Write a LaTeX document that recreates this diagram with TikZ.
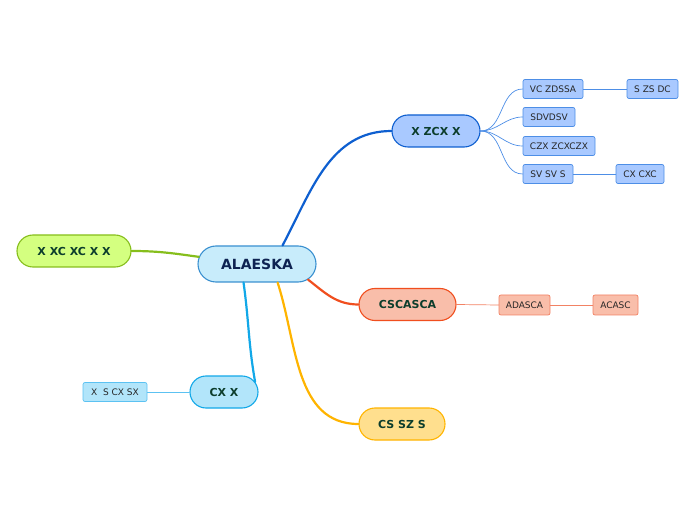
\documentclass[tikz,border=0pt]{standalone}
\usepackage{fontspec}
\setmainfont{DejaVu Sans}
\usetikzlibrary{topaths,shapes.misc}

\definecolor{centfill}{HTML}{C8ECFB}
\definecolor{centdraw}{HTML}{3A90D0}
\definecolor{centtext}{HTML}{0E2352}
\definecolor{toptext}{HTML}{0C3D2C}
\definecolor{bluefill}{HTML}{A9C9FF}
\definecolor{bluedraw}{HTML}{0E5FD0}
\definecolor{bluesub}{HTML}{4D8EE6}
\definecolor{greenfill}{HTML}{D4FF80}
\definecolor{greendraw}{HTML}{86BE1C}
\definecolor{redfill}{HTML}{F9BEAA}
\definecolor{reddraw}{HTML}{F04E1E}
\definecolor{redsub}{HTML}{F28264}
\definecolor{skyfill}{HTML}{B2E5FA}
\definecolor{skydraw}{HTML}{12A8E8}
\definecolor{skysub}{HTML}{5CC2F2}
\definecolor{yellowfill}{HTML}{FFDF8E}
\definecolor{yellowdraw}{HTML}{FFB400}

\begin{document}
\begin{tikzpicture}[x=1pt,y=1pt,line cap=round]
	\tikzstyle{zhuti}=[draw,rounded rectangle,line width=1.1pt,inner sep=0pt,text=toptext,font=\fontsize{11}{13}\selectfont\bfseries,minimum height=32pt];
	\tikzstyle{fenzhi}=[draw,line width=0.7pt,rounded corners=2pt,inner sep=0pt,text=black!85,font=\fontsize{9}{10}\selectfont,minimum height=19pt];
	\tikzstyle{cu}=[line width=2.2pt];
	\tikzstyle{xi}=[line width=0.7pt];
	\useasboundingbox (0,0) rectangle (696,520);
	%% central topic
	\node[draw=centdraw,fill=centfill,rounded rectangle,line width=1.1pt,minimum width=118pt,minimum height=36pt,inner sep=0pt,text=centtext,font=\fontsize{14}{16}\selectfont\bfseries] (c) at (257,256) {ALAESKA};
	%% main topics
	\node[zhuti,draw=bluedraw,fill=bluefill,minimum width=88pt]     (z1) at (436,389)   {X ZCX X};
	\node[zhuti,draw=greendraw,fill=greenfill,minimum width=114pt] (z2) at (74,269)    {X XC XC X X};
	\node[zhuti,draw=reddraw,fill=redfill,minimum width=97pt]      (z3) at (407.5,215.5) {CSCASCA};
	\node[zhuti,draw=skydraw,fill=skyfill,minimum width=68pt]      (z4) at (224,128)   {CX X};
	\node[zhuti,draw=yellowdraw,fill=yellowfill,minimum width=86pt] (z5) at (402,96)   {CS SZ S};
	%% subtopics
	\node[fenzhi,draw=bluesub,fill=bluefill,minimum width=60pt] (s1) at (553,431)   {VC ZDSSA};
	\node[fenzhi,draw=bluesub,fill=bluefill,minimum width=51pt] (s2) at (652.5,431) {S ZS DC};
	\node[fenzhi,draw=bluesub,fill=bluefill,minimum width=52pt] (s3) at (549,403)   {SDVDSV};
	\node[fenzhi,draw=bluesub,fill=bluefill,minimum width=72pt] (s4) at (559,374)   {CZX ZCXCZX};
	\node[fenzhi,draw=bluesub,fill=bluefill,minimum width=50pt] (s5) at (548,346)   {SV SV S};
	\node[fenzhi,draw=bluesub,fill=bluefill,minimum width=48pt] (s6) at (640,346)   {CX CXC};
	\node[fenzhi,draw=redsub,fill=redfill,minimum width=51pt,minimum height=20pt] (s7) at (524.5,215) {ADASCA};
	\node[fenzhi,draw=redsub,fill=redfill,minimum width=45pt,minimum height=20pt] (s8) at (615.5,215) {ACASC};
	\node[fenzhi,draw=skysub,fill=skyfill,minimum width=64pt]   (s9) at (115,128)   {X\ \ S CX SX};
	%% main branches
	\draw[cu,bluedraw]   (c.36)   to[out=62,in=180]  (z1.west);
	\draw[cu,greendraw]  (c.173)  to[out=172,in=0]   (z2.east);
	\draw[cu,reddraw]    (c.-17)  to[out=-38,in=180] (z3.west);
	\draw[cu,skydraw]    (c.-126) to[out=-82,in=100] (z4.18);
	\draw[cu,yellowdraw] (c.-42)  to[out=-72,in=180] (z5.west);
	%% sub branches
	\draw[xi,bluesub] (z1.east) to[out=0,in=180] (s1.west);
	\draw[xi,bluesub] (z1.east) to[out=0,in=180] (s3.west);
	\draw[xi,bluesub] (z1.east) to[out=0,in=180] (s4.west);
	\draw[xi,bluesub] (z1.east) to[out=0,in=180] (s5.west);
	\draw[xi,bluesub] (s1.east) -- (s2.west);
	\draw[xi,bluesub] (s5.east) -- (s6.west);
	\draw[xi,redsub]  (z3.east) -- (s7.west);
	\draw[xi,redsub]  (s7.east) -- (s8.west);
	\draw[xi,skysub]  (s9.east) -- (z4.west);
\end{tikzpicture}
\end{document}
